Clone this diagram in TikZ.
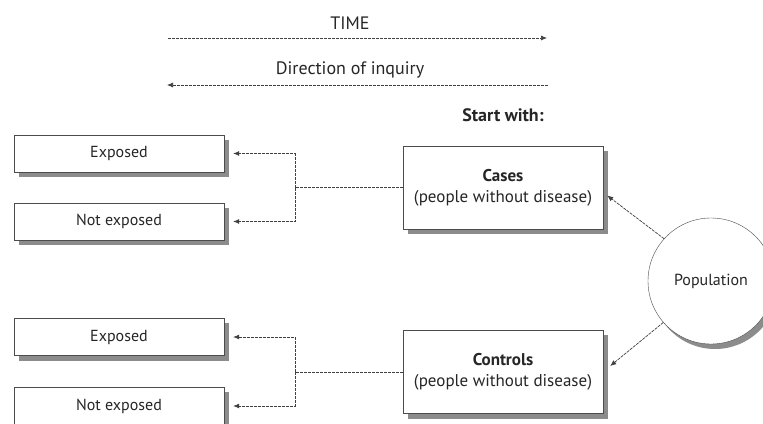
\documentclass[tikz,border=0pt]{standalone}
\usepackage{fontspec}
\setmainfont{PT Sans}
\usetikzlibrary{arrows.meta,backgrounds}

\begin{document}
\begin{tikzpicture}[x=1pt, y=-1pt,
  every node/.style={font=\fontsize{16}{19}\selectfont, text=black!85},
  expbox/.style={rectangle, draw=black!70, fill=white, minimum width=210pt, minimum height=37pt},
  grpbox/.style={rectangle, draw=black!70, fill=white, minimum width=200pt, minimum height=83pt,
                 align=center, font=\fontsize{17}{21}\selectfont},
  toplabel/.style={font=\fontsize{18}{21}\selectfont},
  shadefill/.style={fill=black!45},
  link/.style={draw=black!75, line width=0.7pt, dash pattern=on 3pt off 1pt},
  tip/.style={-{Latex[length=6pt,width=5pt]}}
]
  \clip (0,0) rectangle (763,423);

  % Zeitachse
  \node[toplabel] (time) at (350,23) {TIME};
  \coordinate (t1) at (168,38);
  \coordinate (t2) at (547,38);
  \draw[link, tip] (t1) -- (t2);
  \node[toplabel] (inq) at (350,70) {Direction of inquiry};
  \coordinate (d1) at (548,85);
  \coordinate (d2) at (167,85);
  \draw[link, tip] (d1) -- (d2);
  \node[toplabel, font=\bfseries\fontsize{18}{21}\selectfont] (start) at (503,115) {Start with:};

  % Fälle und Kontrollen
  \node[grpbox] (cases) at (503,187.5) {\textbf{Cases}\\(people without disease)};
  \node[grpbox] (controls) at (503,372) {\textbf{Controls}\\(people without disease)};
  \node[circle, draw=black!70, fill=white, minimum size=126pt] (pop) at (711,281) {Population};

  % Exposition
  \node[expbox] (exp1) at (119,153.5) {Exposed};
  \node[expbox] (nexp1) at (119,221.5) {Not exposed};
  \node[expbox] (exp2) at (119,337) {Exposed};
  \node[expbox] (nexp2) at (119,406) {Not exposed};

  % Schatten
  \begin{scope}[on background layer]
    \fill[white] (0,0) rectangle (763,423);
    \foreach \n in {cases,controls,exp1,nexp1,exp2,nexp2}
      \fill[shadefill] ([shift={(5,5)}]\n.north west) rectangle ([shift={(5,5)}]\n.south east);
    \fill[shadefill] ([shift={(4,5)}]pop.center) circle (63);
  \end{scope}

  % Verbindungen
  \coordinate (b1) at (295,187.5);
  \coordinate (b2) at (295,372);
  \draw[link] (cases.west) -- (b1);
  \draw[link, tip] (b1) |- ([xshift=9pt]exp1.east);
  \draw[link, tip] (b1) |- ([xshift=9pt]nexp1.east);
  \draw[link] (controls.west) -- (b2);
  \draw[link, tip] (b2) |- ([xshift=9pt]exp2.east);
  \draw[link, tip] (b2) |- ([xshift=9pt]nexp2.east);
  \draw[link, tip] (pop.138) -- ([shift={(4,8)}]cases.east);
  \draw[link, tip] (pop.221) -- ([shift={(7,-6)}]controls.east);
\end{tikzpicture}
\end{document}
